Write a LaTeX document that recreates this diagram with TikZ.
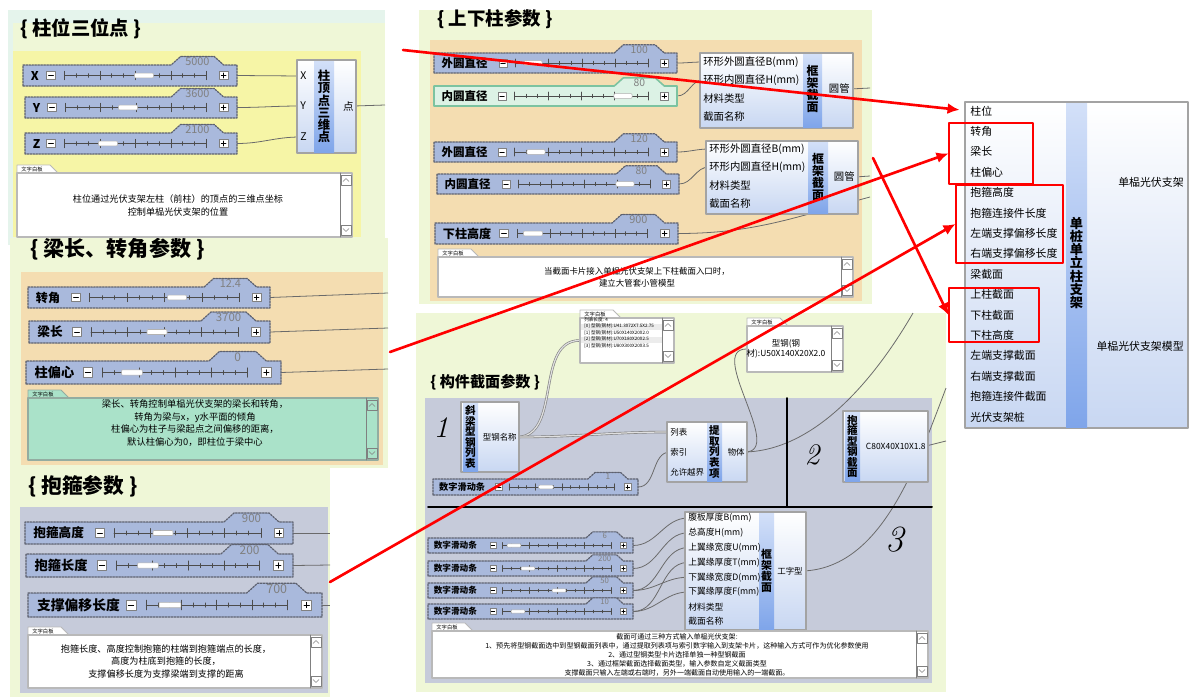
\documentclass[tikz,border=0pt]{standalone}
\usepackage{fontspec}
\newfontfamily\cjk{Noto Sans CJK SC}
\usetikzlibrary{arrows.meta,fit}
\definecolor{grpgreen}{HTML}{EFF7D7}
\definecolor{grpcyan}{HTML}{E5F4EC}
\definecolor{grpyellow}{HTML}{F6F5A6}
\definecolor{grpwheat}{HTML}{F4DDB1}
\definecolor{grpgrey}{HTML}{C6CBDA}
\definecolor{slfill}{HTML}{A9B9DC}
\definecolor{sledge}{HTML}{5E6270}
\definecolor{slgreen}{HTML}{DCF2E5}
\definecolor{slgreenedge}{HTML}{7CC3A0}
\definecolor{compfill}{HTML}{C8D7F2}
\definecolor{compedge}{HTML}{A3A3A3}
\definecolor{stripA}{HTML}{D3E0F8}
\definecolor{stripB}{HTML}{7FA5EA}
\definecolor{notegreen}{HTML}{AAE2C9}
\definecolor{wirec}{HTML}{6A6A6A}
\pgfdeclarelayer{groups}
\pgfdeclarelayer{wires}
\pgfsetlayers{groups,wires,main}
\newcommand{\fsz}[1]{\fontsize{#1}{#1}\selectfont}
\tikzset{
  slbody/.style={fill=slfill, draw=sledge, dash pattern=on 1pt off 0.7pt, line width=0.7pt},
  slbtn/.style={draw=gray, fill=white, inner sep=0, line width=0.4pt},
  sltrack/.style={draw=gray!60!black, line width=0.35pt},
  slknob/.style={fill=white, draw=gray!60, rounded corners=0.5pt, inner sep=0, line width=0.3pt},
  comp/.style={draw=compedge, line width=0.9pt, top color=white, bottom color=compfill, inner sep=0},
  strip/.style={top color=stripA, bottom color=stripB, inner sep=0},
  ctitle/.style={font=\cjk\bfseries\fontsize{#1}{#1}\selectfont, align=center, inner sep=0},
  port/.style={font=\cjk\fsz{#1}, inner sep=0},
  port/.default=6,
  wire/.style={draw=wirec, line width=0.45pt},
  listwire/.style={draw=gray, double=gray!25, double distance=0.7pt, line width=0.35pt},
  notebox/.style={line width=0.6pt, inner sep=0},
  notebar/.style={draw=gray, line width=0.35pt},
  notetext/.style 2 args={font=\cjk\fontsize{#1}{#2}\selectfont, align=center, inner sep=0},
  gtitle/.style={font=\cjk\bfseries\fsz{#1}, anchor=west, inner sep=0},
  hand/.style={font=\itshape\fsz{#1}, inner sep=0},
  redarrow/.style={draw=red, line width=1.5pt, -{Latex[length=2.4mm,width=2.2mm]}},
  redbox/.style={draw=red, line width=0.6pt, inner sep=0},
}
% slider: name, left, top, right, label, value, minus box x, knob x, height
\newcommand\gslider[9]{%
  \pgfmathsetmacro\slk{#9/22}%
  \pgfmathsetmacro\slm{#3+#9/2}%
  \pgfmathsetmacro\slfs{7.2*\slk}%
  \pgfmathsetmacro\slvs{6.5*\slk}%
  \pgfmathsetmacro\sla{#7+14*\slk}%
  \pgfmathsetmacro\slb{#4-32*\slk}%
  \path[slbody] (#2,#3+#9) -- (#2,#3) -- ({#4-69*\slk},#3) -- ({#4-59*\slk},{#3-9*\slk})
    -- ({#4-24*\slk},{#3-9*\slk}) -- ({#4-14*\slk},#3) -- (#4,#3) -- (#4,#3+#9) -- cycle;
  \node[font=\cjk\fsz{\slvs}, text=gray, inner sep=0] at ({#4-41.5*\slk},{#3-3.5*\slk}) {#6};
  \node[font=\cjk\bfseries\fsz{\slfs}, anchor=west, inner sep=0] at ({#2+8*\slk},\slm) {#5};
  \node[slbtn, minimum size={9*\slk*0.02cm}] at (#7,\slm) {};
  \node[slbtn, minimum size={9*\slk*0.02cm}] at ({#4-14*\slk},\slm) {};
  \draw[line width=0.5pt] ({#7-2.5*\slk},\slm) -- ({#7+2.5*\slk},\slm);
  \draw[line width=0.5pt] ({#4-16.5*\slk},\slm) -- ({#4-11.5*\slk},\slm)
    ({#4-14*\slk},{\slm-2.5*\slk}) -- ({#4-14*\slk},{\slm+2.5*\slk});
  \draw[sltrack] (\sla,\slm) -- (\slb,\slm);
  \foreach \t in {0,...,12}{\draw[sltrack] ({\sla+\t*(\slb-\sla)/12},{\slm-2*\slk}) -- ++(0,{4*\slk});}
  \foreach \t in {0,3,...,12}{\draw[sltrack] ({\sla+\t*(\slb-\sla)/12},{\slm-4.5*\slk}) -- ++(0,{9*\slk});}
  \node[slknob, minimum width={20*\slk*0.02cm}, minimum height={5*\slk*0.02cm}] at (#8,\slm) {};
  \coordinate (#1) at (#4,\slm);
}
% text panel: [fill] name, x1, y1, x2, y2
\newcommand\gnote[6][white]{%
  \path[fill=#1, draw=#1!45!gray, line width=0.5pt] (#3,#4) -- (#3,#4-8) -- (#3+33,#4-8) -- (#3+41,#4) -- cycle;
  \node[font=\cjk\fsz{3}, inner sep=0] at (#3+15,#4-4) {文字白板};
  \node[notebox, fill=#1, draw=#1!45!gray, fit={(#3,#4) (#5,#6)}] (#2) {};
  \draw[notebar] (#5-12,#4) -- (#5-12,#6);
  \draw[notebar] (#5-11,#4+2) rectangle (#5-1,#4+12);
  \draw[notebar] (#5-11,#6-12) rectangle (#5-1,#6-2);
  \draw[notebar] (#5-9,#4+8.5) -- (#5-6,#4+5.5) -- (#5-3,#4+8.5);
  \draw[notebar] (#5-9,#6-8.5) -- (#5-6,#6-5.5) -- (#5-3,#6-8.5);
}

\begin{document}
\begin{tikzpicture}[x=0.02cm,y=-0.02cm,line cap=round,line join=round]
  \useasboundingbox (0,0) rectangle (1196,697);

  % group frames
  \begin{pgfonlayer}{groups}
    \fill[white] (0,0) rectangle (1196,697);
    \fill[grpcyan] (8,10) rectangle (385,245);
    \fill[grpgreen] (13,23) rectangle (385,238);
    \fill[grpyellow] (13,51) rectangle (361,237);
    \fill[grpgreen] (10,238) rectangle (388,468);
    \fill[grpwheat] (21,272) rectangle (383,465);
    \fill[grpgreen] (10,467) rectangle (330,697);
    \fill[grpgrey] (20,507) rectangle (328,693);
    \fill[grpgreen] (419,10) rectangle (872,304);
    \fill[grpwheat] (430,40) rectangle (862,301);
    \fill[grpgreen] (416,313) rectangle (946,692);
    \fill[grpgrey] (425,398) rectangle (932,683);
  \end{pgfonlayer}

  \node[gtitle=11] (t1) at (20,29) {\{ 柱位三位点 \}};
  \node[gtitle=12] (t2) at (30,249) {\{ 梁长、转角参数 \}};
  \node[gtitle=11.8] (t3) at (28,486) {\{ 抱箍参数 \}};
  \node[gtitle=10.5] (t4) at (437,19) {\{ 上下柱参数 \}};
  \node[gtitle=8.6] (t5) at (430,382) {\{ 构件截面参数 \}};

  % column top point
  \gslider{sX}{23}{65}{237}{X}{5000}{51}{144}{21}
  \gslider{sY}{25}{97}{237}{Y}{3600}{52}{128}{21}
  \gslider{sZ}{25}{133}{237}{Z}{2100}{51}{108}{21}
  \node[comp, fit={(297,60) (356,153)}] (cPt) {};
  \node[strip, fit={(314,61) (334,152)}] (cPts) {};
  \node[ctitle=7] at (cPts) {柱\\顶\\点\\三\\维\\点};
  \node[port, anchor=west] (pX) at (300,76) {X};
  \node[port, anchor=west] (pY) at (300,106) {Y};
  \node[port, anchor=west] (pZ) at (300,137) {Z};
  \node[port, anchor=east] (pPt) at (354,106) {点};
  \coordinate (g1o) at (385,105);
  \gnote{n1}{17}{173}{352}{237}
  \node[notetext={5.2}{7.4}] (n1t) at (178,205.5) {柱位通过光伏支架左柱（前柱）的顶点的三维点坐标\\控制单榀光伏支架的位置};

  % beam length and rotation
  \gslider{sRot}{28}{287}{270}{转角}{12.4}{76}{177}{21}
  \gslider{sLen}{29}{321}{270}{梁长}{3700}{77}{157}{22}
  \gslider{sOff}{26}{361}{281}{柱偏心}{0}{88}{132}{23}
  \coordinate (g2o1) at (388,293);
  \coordinate (g2o2) at (388,328);
  \coordinate (g2o3) at (388,369);
  \gnote[notegreen]{n2}{28}{398}{378}{460}
  \node[notetext={5.3}{7.2}] (n2t) at (195,423) {梁长、转角控制单榀光伏支架的梁长和转角，\\转角为梁与x，y水平面的倾角\\柱偏心为柱子与梁起点之间偏移的距离，\\默认柱偏心为0，即柱位于梁中心};

  % hoop
  \gslider{sHH}{25}{522}{293}{抱箍高度}{900}{100}{163}{22}
  \gslider{sHL}{26}{554}{293}{抱箍长度}{200}{102}{148}{23}
  \gslider{sSO}{28}{593}{322}{支撑偏移长度}{700}{131}{170}{24}
  \coordinate (g3o1) at (330,533);
  \coordinate (g3o2) at (330,565);
  \coordinate (g3o3) at (330,605);
  \gnote{n3}{28}{635}{322}{688}
  \node[notetext={5.2}{7.1}] (n3t) at (166,661.5) {抱箍长度、高度控制抱箍的柱端到抱箍端点的长度，\\高度为柱底到抱箍的长度，\\支撑偏移长度为支撑梁端到支撑的距离};

  % upper and lower column
  \gslider{sOD1}{434}{53}{677}{外圆直径}{100}{503}{533}{20}
  \begin{scope}[slbody/.style={fill=slgreen, draw=slgreenedge, line width=0.9pt}]
    \gslider{sID1}{434}{86}{677}{内圆直径}{80}{502}{623}{20}
  \end{scope}
  \gslider{sOD2}{434}{142}{677}{外圆直径}{120}{502}{536}{20}
  \gslider{sID2}{437}{174}{679}{内圆直径}{80}{506}{625}{20}
  \gslider{sLH}{435}{223}{678}{下柱高度}{900}{504}{533}{21}
  \node[comp, fit={(700,53) (853,128)}] (cTube1) {};
  \node[strip, fit={(803,54) (822,127)}] (cTube1s) {};
  \node[ctitle=6.8] at (812.5,89) {框\\架\\截\\面};
  \node[port=5.9, anchor=west] (pB1) at (703,62) {环形外圆直径B(mm)};
  \node[port=5.9, anchor=west] (pH1) at (703,80) {环形内圆直径H(mm)};
  \node[port=5.9, anchor=west] (pM1) at (703,99) {材料类型};
  \node[port=5.9, anchor=west] (pN1) at (703,117) {截面名称};
  \node[port=5.9, anchor=east] (pT1) at (850,89) {圆管};
  \node[comp, fit={(706,141) (858,214)}] (cTube2) {};
  \node[strip, fit={(808,142) (828,213)}] (cTube2s) {};
  \node[ctitle=6.8] at (818,177) {框\\架\\截\\面};
  \node[port=5.9, anchor=west] (pB2) at (709,149) {环形外圆直径B(mm)};
  \node[port=5.9, anchor=west] (pH2) at (709,167) {环形内圆直径H(mm)};
  \node[port=5.9, anchor=west] (pM2) at (709,186) {材料类型};
  \node[port=5.9, anchor=west] (pN2) at (709,204) {截面名称};
  \node[port=5.9, anchor=east] (pT2) at (855,177) {圆管};
  \coordinate (g4lh) at (870,197);
  \coordinate (g4o1) at (870,88);
  \coordinate (g4o2) at (870,176);
  \gnote{n4}{438}{257}{853}{297}
  \node[notetext={4.8}{6.8}] (n4t) at (637,277) {当截面卡片接入单榀光伏支架上下柱截面入口时，\\建立大管套小管模型};

  % member sections
  \draw[line width=1.1pt] (428,507) -- (932,507);
  \draw[line width=1.1pt] (787,398) -- (787,507);
  \node[hand=17] (h1) at (441,428) {1};
  \node[hand=17] (h2) at (812,455) {2};
  \node[hand=21] (h3) at (895,540) {3};
  \gnote{nList}{580}{318}{674}{363}
  \fill[gray!15] (581,324) rectangle (662,330);
  \fill[gray!15] (581,337) rectangle (662,343);
  \node[font=\cjk\fontsize{2.6}{3.7}\selectfont, align=left, anchor=west, inner sep=0] (nListt) at (584,333)
    {列表长度: 4\\{[0]} 型钢(钢材):U41.3X72X7.5X2.75\\{[1]} 型钢(钢材):U50X140X20X2.0\\{[2]} 型钢(钢材):U70X180X20X2.5\\{[3]} 型钢(钢材):U80X300X20X3.5};
  \gnote{nSteel}{747}{326}{843}{372}
  \node[notetext={4.8}{5.7}] (nSteelt) at (786,349) {型钢(钢\\材):U50X140X20X2.0};
  \node[comp, fit={(461,402) (519,472)}] (cList) {};
  \node[strip, fit={(463,403) (478,471)}] (cLists) {};
  \node[ctitle=6] at (cLists) {斜\\梁\\型\\钢\\列\\表};
  \node[port=4.8, anchor=east] (pName) at (517,437) {型钢名称};
  \node[comp, fit={(667,422) (747,482)}] (cPick) {};
  \node[strip, fit={(707,423) (722,481)}] (cPicks) {};
  \node[ctitle=6] at (cPicks) {提\\取\\列\\表\\项};
  \node[port=4.8, anchor=west] (pLst) at (670,432) {列表};
  \node[port=4.8, anchor=west] (pIdx) at (670,452) {索引};
  \node[port=4.8, anchor=west] (pWrap) at (670,472) {允许越界};
  \node[port=4.8, anchor=east] (pObj) at (745,452) {物体};
  \gslider{sIdx}{433}{479}{638}{数字滑动条}{1}{499}{546}{16}
  \node[comp, fit={(843,411) (928,482)}] (cHoop) {};
  \node[strip, fit={(845,412) (860,481)}] (cHoops) {};
  \node[ctitle=6] at (cHoops) {抱\\箍\\型\\钢\\截\\面};
  \node[port=4.8, anchor=east] (pHoop) at (926,446) {C80X40X10X1.8};
  \node[comp, fit={(685,512) (806,630)}] (cIsec) {};
  \node[strip, fit={(759,513) (774,629)}] (cIsecs) {};
  \node[ctitle=6.2] at (766.5,571) {框\\架\\截\\面};
  \foreach \nm/\lab [count=\i from 0] in {pWB/腹板厚度B(mm), pTH/总高度H(mm), pUW/上翼缘宽度U(mm), pUT/上翼缘厚度T(mm),
      pDW/下翼缘宽度D(mm), pDT/下翼缘厚度F(mm), pMat/材料类型, pSec/截面名称}
    \node[port=5, anchor=west] (\nm) at (688,{518+14.8*\i}) {\lab};
  \node[port=4.8, anchor=east] (pI) at (803,571) {工字型};
  \gslider{sN1}{428}{538}{633}{数字滑动条}{6}{493}{514}{15}
  \gslider{sN2}{428}{561}{633}{数字滑动条}{200}{493}{528}{15}
  \gslider{sN3}{428}{583}{633}{数字滑动条}{50}{493}{559}{15}
  \gslider{sN4}{428}{604}{633}{数字滑动条}{10}{493}{518}{15}
  \coordinate (g5o1) at (913,313);
  \coordinate (g5o2) at (946,388);
  \coordinate (g5o3) at (946,441);
  \gnote{n5}{432}{631}{928}{678}
  \node[notetext={4}{5.1}] (n5t) at (677,655) {截面可通过三种方式输入单榀光伏支架:\\1、预先将型钢截面选中到型钢截面列表中，通过提取列表项与索引数字输入到支架卡片，这种输入方式可作为优化参数使用\\2、通过型钢类型卡片选择单独一种型钢截面\\3、通过框架截面选择截面类型，输入参数自定义截面类型\\支撑截面只输入左端或右端时，另外一端截面自动使用输入的一端截面。};

  % main component
  \node[comp, fit={(965,102) (1188,428)}] (cMain) {};
  \node[strip, fit={(1066,103) (1087,427)}] (cMains) {};
  \node[ctitle=7.5] at (1076.5,263) {单\\桩\\单\\立\\柱\\支\\架};
  \foreach \lab [count=\i from 0] in {柱位, 转角, 梁长, 柱偏心, 抱箍高度, 抱箍连接件长度, 左端支撑偏移长度,
      右端支撑偏移长度, 梁截面, 上柱截面, 下柱截面, 下柱高度, 左端支撑截面, 右端支撑截面, 抱箍连接件截面, 光伏支架桩}
    \node[port=6.2, anchor=west] (in\i) at (970,{111+20.4*\i}) {\lab};
  \node[port=6.2, anchor=east] (outA) at (1184,182) {单榀光伏支架};
  \node[port=6.2, anchor=east] (outB) at (1184,346) {单榀光伏支架模型};

  % wires
  \begin{pgfonlayer}{wires}
    \draw[wire] (sX) -- (pX.west);
    \draw[wire] (sY) to[out=0,in=180] (pY.west);
    \draw[wire] (sZ) to[out=0,in=180] (pZ.west);
    \draw[wire] (pPt.east) -- (g1o);
    \foreach \s/\t in {sRot/g2o1, sLen/g2o2, sOff/g2o3, sHH/g3o1, sHL/g3o2, sSO/g3o3}
      \draw[wire] (\s) -- (\t);
    \foreach \s/\t in {sOD1/pB1, sID1/pH1, sOD2/pB2, sID2/pH2, sIdx/pIdx, sN1/pWB, sN2/pTH, sN3/pUW, sN3/pDW, sN4/pUT, sN4/pDT}
      \draw[wire] (\s) to[out=0,in=180] (\t.west);
    \draw[wire] (sLH) to[out=0,in=195] (g4lh);
    \draw[wire] (pT1.east) -- (g4o1);
    \draw[wire] (pT2.east) -- (g4o2);
    \draw[listwire] (pName.east) to[out=0,in=180] (nList.west);
    \draw[listwire] (pName.east) to[out=0,in=180] (pLst.west);
    \draw[wire] (pObj.east) to[out=0,in=180] (nSteel.west);
    \draw[wire] (pObj.east) .. controls (820,450) and (880,370) .. (g5o1);
    \draw[wire] (pI.east) .. controls (880,568) and (915,470) .. (g5o2);
    \draw[wire] (pHoop.east) -- (g5o3);
  \end{pgfonlayer}

  % red marks
  \node[redbox, fit={(949,123) (1033,184)}] (rb1) {};
  \node[redbox, fit={(956,185) (1063,263)}] (rb2) {};
  \node[redbox, fit={(949,288) (1039,342)}] (rb3) {};
  \coordinate (a1) at (403,50);
  \coordinate (a2) at (390,352);
  \coordinate (a3) at (330,582);
  \coordinate (a4) at (873,158);
  \draw[redarrow, shorten >=6pt] (a1) -- (in0.west);
  \foreach \s/\t in {a2/rb1, a3/rb2, a4/rb3}
    \draw[redarrow] (\s) -- (\t.west);
\end{tikzpicture}
\end{document}
